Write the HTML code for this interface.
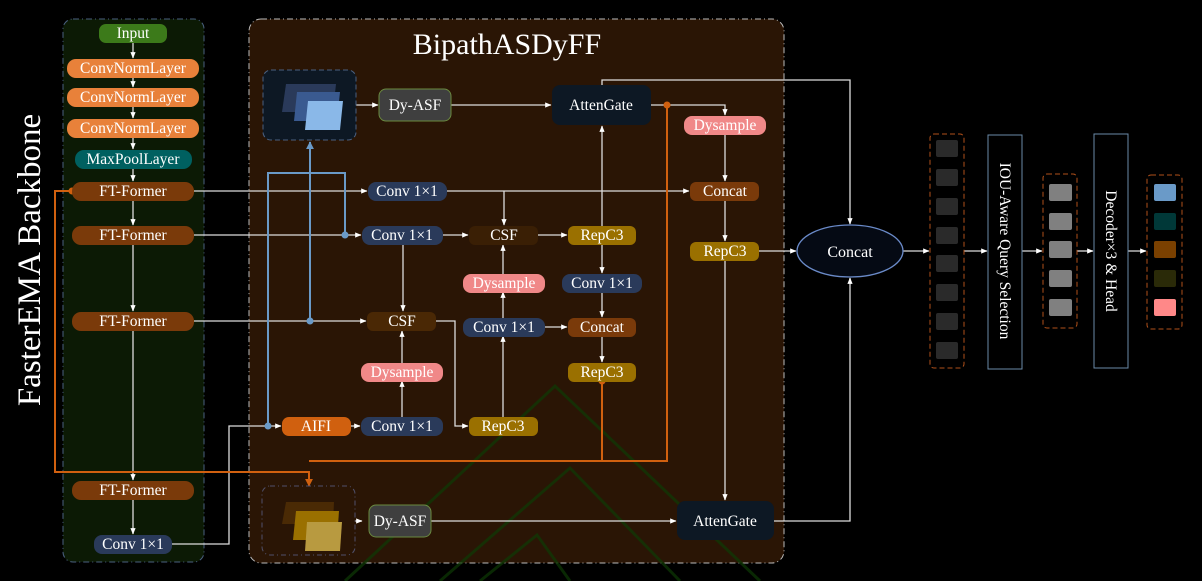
<!DOCTYPE html>
<html><head><meta charset="utf-8"><style>
html,body{margin:0;padding:0;background:#000;}
svg{display:block;}
text{font-family:"Liberation Serif",serif;fill:#fff;}
</style></head><body>
<svg width="1202" height="581" viewBox="0 0 1202 581" xmlns="http://www.w3.org/2000/svg">
<defs>
<marker id="a" viewBox="0 0 10 10" refX="9" refY="5" markerWidth="5" markerHeight="5" orient="auto"><path d="M0,1 L10,5 L0,9 z" fill="#fff"/></marker>
<marker id="ab" viewBox="0 0 10 10" refX="9" refY="5" markerWidth="4" markerHeight="4" orient="auto"><path d="M0,0 L10,5 L0,10 z" fill="#6a9ac8"/></marker>
<marker id="ao" viewBox="0 0 10 10" refX="9" refY="5" markerWidth="4" markerHeight="4" orient="auto"><path d="M0,0 L10,5 L0,10 z" fill="#d0600f"/></marker>
</defs>
<rect width="1202" height="581" fill="#000"/>
<text x="40" y="260" font-size="33" text-anchor="middle" transform="rotate(-90 40 260)">FasterEMA Backbone</text>

<rect x="63" y="19" width="141" height="543" rx="10" fill="#0c1a05" stroke="#4a6080" stroke-dasharray="6,3,1,3"/>
<rect x="249" y="19" width="535" height="544" rx="12" fill="#2a1505" stroke="#bbb" stroke-dasharray="6,3,1,3"/>
<g stroke="#0e3a05" stroke-width="3" fill="none" opacity="0.7">
<polyline points="345,581 555,386 760,581"/>
<polyline points="440,581 570,468 680,581"/>
<polyline points="480,581 537,535 570,581"/>
</g>
<text x="507" y="54" font-size="30" text-anchor="middle">BipathASDyFF</text>

<g stroke="#ddd" stroke-width="1.3" fill="none" marker-end="url(#a)">
<line x1="133" y1="43" x2="133" y2="58"/>
<line x1="133" y1="78" x2="133" y2="87"/>
<line x1="133" y1="107" x2="133" y2="118"/>
<line x1="133" y1="138" x2="133" y2="149"/>
<line x1="133" y1="169" x2="133" y2="181"/>
<line x1="133" y1="201" x2="133" y2="225"/>
<line x1="133" y1="245" x2="133" y2="311"/>
<line x1="133" y1="331" x2="133" y2="480"/>
<line x1="133" y1="500" x2="133" y2="534"/>
<line x1="194" y1="191" x2="367" y2="191"/>
<line x1="447" y1="191" x2="689" y2="191"/>
<line x1="194" y1="235" x2="361" y2="235"/>
<line x1="443" y1="235" x2="468" y2="235"/>
<line x1="538" y1="235" x2="567" y2="235"/>
<line x1="194" y1="321" x2="366" y2="321"/>
<polyline points="436,321 455,321 455,426 468,426"/>
<line x1="504" y1="191" x2="504" y2="225"/>
<line x1="403" y1="245" x2="403" y2="311"/>
<line x1="402" y1="417" x2="402" y2="381"/>
<line x1="402" y1="363" x2="402" y2="331"/>
<line x1="503" y1="417" x2="503" y2="336"/>
<line x1="503" y1="318" x2="503" y2="292"/>
<line x1="503" y1="274" x2="503" y2="245"/>
<line x1="545" y1="327" x2="567" y2="327"/>
<line x1="602" y1="245" x2="602" y2="273"/>
<line x1="602" y1="292" x2="602" y2="317"/>
<line x1="602" y1="336" x2="602" y2="362"/>
<line x1="602" y1="226" x2="602" y2="126"/>
<line x1="356" y1="105" x2="378" y2="105"/>
<line x1="451" y1="105" x2="551" y2="105"/>
<polyline points="651,105 725,105 725,115"/>
<line x1="725" y1="134" x2="725" y2="181"/>
<line x1="725" y1="200" x2="725" y2="241"/>
<line x1="725" y1="260" x2="725" y2="500"/>
<line x1="759" y1="251" x2="796" y2="251"/>
<polyline points="602,85 602,80 850,80 850,224"/>
<polyline points="774,521 850,521 850,278"/>
<line x1="355" y1="521" x2="362" y2="521"/>
<line x1="431" y1="521" x2="676" y2="521"/>
<polyline points="172,544 229,544 229,426 281,426"/>
<line x1="351" y1="426" x2="360" y2="426"/>
<line x1="903" y1="251" x2="929" y2="251"/>
<line x1="964" y1="251" x2="987" y2="251"/>
<line x1="1022" y1="251" x2="1042" y2="251"/>
<line x1="1077" y1="251" x2="1093" y2="251"/>
<line x1="1128" y1="251" x2="1146" y2="251"/>
</g>

<g stroke="#6a9ac8" stroke-width="2" fill="none">
<polyline points="268,426 268,173 345,173 345,235"/>
<line x1="310" y1="321" x2="310" y2="142" marker-end="url(#ab)"/>
</g>
<g fill="#6a9ac8"><circle cx="268" cy="426" r="3.5"/><circle cx="345" cy="235" r="3.5"/><circle cx="310" cy="321" r="3.5"/></g>

<g stroke="#d0600f" stroke-width="2" fill="none">
<polyline points="72,191 55,191 55,472 309,472 309,486" marker-end="url(#ao)"/>
<polyline points="309,461 667,461 667,105"/>
<line x1="602" y1="381" x2="602" y2="461"/>
</g>
<g fill="#d0600f"><circle cx="72" cy="191" r="3.5"/><circle cx="667" cy="105" r="3.5"/><circle cx="602" cy="381" r="3.5"/></g>

<g font-size="15.5" text-anchor="middle">
<rect x="99" y="24" width="68" height="19" rx="7" fill="#3c7a1a"/><text x="133" y="38">Input</text>
<rect x="67" y="59" width="132" height="19" rx="9" fill="#e8813a"/><text x="133" y="73">ConvNormLayer</text>
<rect x="67" y="88" width="132" height="19" rx="9" fill="#e8813a"/><text x="133" y="102">ConvNormLayer</text>
<rect x="67" y="119" width="132" height="19" rx="9" fill="#e8813a"/><text x="133" y="133">ConvNormLayer</text>
<rect x="75" y="150" width="117" height="19" rx="9" fill="#006060"/><text x="133" y="164">MaxPoolLayer</text>
<rect x="72" y="182" width="122" height="19" rx="9" fill="#7a3a0a"/><text x="133" y="196">FT-Former</text>
<rect x="72" y="226" width="122" height="19" rx="9" fill="#7a3a0a"/><text x="133" y="240">FT-Former</text>
<rect x="72" y="312" width="122" height="19" rx="9" fill="#7a3a0a"/><text x="133" y="326">FT-Former</text>
<rect x="72" y="481" width="122" height="19" rx="9" fill="#7a3a0a"/><text x="133" y="495">FT-Former</text>
<rect x="94" y="535" width="78" height="19" rx="8" fill="#2a3a5a"/><text x="133" y="549">Conv 1×1</text>

<rect x="368" y="182" width="79" height="19" rx="8" fill="#2a3a5a"/><text x="407" y="196">Conv 1×1</text>
<rect x="362" y="226" width="81" height="19" rx="8" fill="#2a3a5a"/><text x="402" y="240">Conv 1×1</text>
<rect x="469" y="226" width="69" height="19" rx="6" fill="#3a1f05"/><text x="504" y="240">CSF</text>
<rect x="568" y="226" width="68" height="19" rx="6" fill="#9a7000"/><text x="602" y="240">RepC3</text>
<rect x="463" y="274" width="82" height="19" rx="8" fill="#f08888"/><text x="504" y="288">Dysample</text>
<rect x="562" y="274" width="80" height="19" rx="8" fill="#2a3a5a"/><text x="602" y="288">Conv 1×1</text>
<rect x="367" y="312" width="69" height="19" rx="6" fill="#4a2805"/><text x="402" y="326">CSF</text>
<rect x="463" y="318" width="82" height="19" rx="8" fill="#2a3a5a"/><text x="504" y="332">Conv 1×1</text>
<rect x="568" y="318" width="68" height="19" rx="6" fill="#7a3a0a"/><text x="602" y="332">Concat</text>
<rect x="361" y="363" width="82" height="19" rx="8" fill="#f08888"/><text x="402" y="377">Dysample</text>
<rect x="568" y="363" width="68" height="19" rx="6" fill="#9a7000"/><text x="602" y="377">RepC3</text>
<rect x="282" y="417" width="69" height="19" rx="7" fill="#d0600f"/><text x="316" y="431">AIFI</text>
<rect x="361" y="417" width="82" height="19" rx="8" fill="#2a3a5a"/><text x="402" y="431">Conv 1×1</text>
<rect x="469" y="417" width="69" height="19" rx="6" fill="#9a7000"/><text x="503" y="431">RepC3</text>
<rect x="684" y="116" width="82" height="19" rx="8" fill="#f08888"/><text x="725" y="130">Dysample</text>
<rect x="690" y="182" width="69" height="19" rx="6" fill="#7a3a0a"/><text x="725" y="196">Concat</text>
<rect x="690" y="242" width="69" height="19" rx="6" fill="#9a7000"/><text x="725" y="256">RepC3</text>

<rect x="379" y="89" width="72" height="32" rx="7" fill="#3f3f3f" stroke="#6a8a40"/><text x="415" y="110">Dy-ASF</text>
<rect x="552" y="85" width="99" height="40" rx="8" fill="#0d1824"/><text x="601" y="110">AttenGate</text>
<rect x="369" y="505" width="62" height="32" rx="7" fill="#3f3f3f" stroke="#6a8a40"/><text x="400" y="526">Dy-ASF</text>
<rect x="677" y="501" width="97" height="39" rx="8" fill="#0d1824"/><text x="725" y="526">AttenGate</text>
</g>

<rect x="263" y="70" width="93" height="70" rx="8" fill="#0d1824" stroke="#4a6080" stroke-dasharray="5,3"/>
<polygon points="286,84 336,84 333,112 282,112" fill="#2a3a5a"/>
<polygon points="297,92 340,92 337,121 294,121" fill="#3a5a90"/>
<polygon points="308,101 343,101 340,130 305,130" fill="#8ab8e8"/>
<rect x="262" y="486" width="93" height="69" rx="8" fill="#2a1505" stroke="#50506a" stroke-dasharray="5,3,1,3"/>
<polygon points="286,502 334,502 333,524 282,524" fill="#4a2a05"/>
<polygon points="296,511 339,511 337,540 293,540" fill="#9a7000"/>
<polygon points="307,522 342,522 340,551 305,551" fill="#b89a40"/>

<ellipse cx="850" cy="251" rx="53" ry="26" fill="#050a14" stroke="#6a8ac8" stroke-width="1.3"/>
<text x="850" y="257" font-size="16" text-anchor="middle">Concat</text>

<rect x="930" y="134" width="34" height="234" rx="4" fill="none" stroke="#b0501a" stroke-dasharray="5,3"/>
<g fill="#2a2a2a">
<rect x="936" y="140" width="22" height="17" rx="2"/><rect x="936" y="169" width="22" height="17" rx="2"/>
<rect x="936" y="198" width="22" height="17" rx="2"/><rect x="936" y="227" width="22" height="17" rx="2"/>
<rect x="936" y="255" width="22" height="17" rx="2"/><rect x="936" y="284" width="22" height="17" rx="2"/>
<rect x="936" y="313" width="22" height="17" rx="2"/><rect x="936" y="342" width="22" height="17" rx="2"/>
</g>
<rect x="988" y="135" width="34" height="234" fill="#000" stroke="#6a8aa8"/>
<text x="1005" y="251" font-size="15.5" text-anchor="middle" transform="rotate(90 1005 251)" dy="5">IOU-Aware Query Selection</text>
<rect x="1043" y="174" width="34" height="154" rx="4" fill="none" stroke="#b0501a" stroke-dasharray="5,3"/>
<g fill="#808080">
<rect x="1049" y="184" width="23" height="17" rx="2"/><rect x="1049" y="213" width="23" height="17" rx="2"/>
<rect x="1049" y="241" width="23" height="17" rx="2"/><rect x="1049" y="270" width="23" height="17" rx="2"/>
<rect x="1049" y="299" width="23" height="17" rx="2"/>
</g>
<rect x="1094" y="134" width="34" height="234" fill="#000" stroke="#6a8aa8"/>
<text x="1111" y="251" font-size="15.5" text-anchor="middle" transform="rotate(90 1111 251)" dy="5">Decoder×3 &amp; Head</text>
<rect x="1147" y="175" width="35" height="154" rx="4" fill="none" stroke="#b0501a" stroke-dasharray="5,3"/>
<rect x="1154" y="184" width="22" height="17" rx="2" fill="#6a9ac8"/>
<rect x="1154" y="213" width="22" height="17" rx="2" fill="#003838"/>
<rect x="1154" y="241" width="22" height="17" rx="2" fill="#7a4000"/>
<rect x="1154" y="270" width="22" height="17" rx="2" fill="#2a2a08"/>
<rect x="1154" y="299" width="22" height="17" rx="2" fill="#ff8888"/>
</svg>
</body></html>
